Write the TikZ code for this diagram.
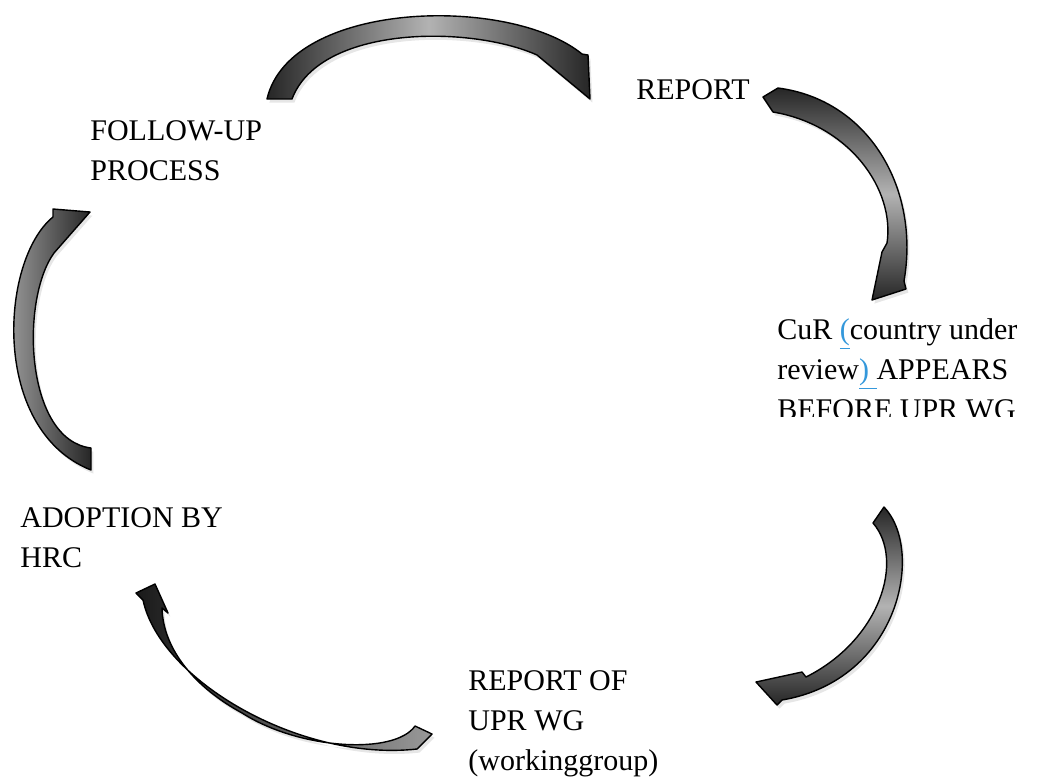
\documentclass[tikz,border=0pt]{standalone}
\usepackage{fontspec}
\setmainfont{Liberation Serif}
\usetikzlibrary{shadows}
\definecolor{linkblue}{RGB}{52,152,219}
\tikzset{every node/.style={anchor=base west, align=left, inner sep=0pt, font=\fontsize{15}{20}\selectfont},
  cyc/.style={draw=black, line width=0.7pt, line join=round,
    drop shadow={shadow xshift=1.2pt, shadow yshift=-1.8pt, opacity=0.2}}}
\newcommand{\bluepar}[1]{\textcolor{linkblue}{\underline{#1}}}

\begin{document}
\begin{tikzpicture}[x=0.5pt,y=-0.5pt]
       \useasboundingbox (0,0) rectangle (1050,778);
       % the five curved arrows of the cycle
       \draw[cyc, left color=black!85, right color=black!85, middle color=black!30]
         (267,99) .. controls (290,0) and (510,-5) .. (582,54) -- (588,55) -- (590,99) -- (537,55)
         .. controls (470,25) and (320,25) .. (292,99) -- cycle;
       \draw[cyc, top color=black!85, bottom color=black!85, middle color=black!30]
         (763,97) -- (778,88) .. controls (870,100) and (920,190) .. (904,281) -- (906,289) -- (872,300)
         -- (882,252) -- (887,243) .. controls (895,190) and (850,125) .. (773,112) -- cycle;
       \draw[cyc, shading angle=30, top color=black!85, bottom color=black!85, middle color=black!30]
         (873,523) -- (884,507) .. controls (925,550) and (900,680) .. (782,700) -- (777,705) -- (756,682)
         -- (802,672) -- (806,677) .. controls (880,640) and (905,560) .. (873,523) -- cycle;
       \draw[cyc, left color=black!90, right color=black!40]
         (136,593) -- (143,600) .. controls (160,680) and (300,762) .. (417,749) -- (432,734) -- (415,726)
         .. controls (395,755) and (300,750) .. (242,713) .. controls (196,688) and (163,650) .. (162,608)
         -- (168,613) -- (155,584) -- cycle;
       \draw[cyc, left color=black!30, right color=black!85]
         (53,209) -- (90,212) -- (54,253) .. controls (20,300) and (25,440) .. (91,448) -- (91,470)
         .. controls (-10,430) and (0,260) .. (53,217) -- cycle;
       % stages (base = last line)
       \node (rep) at (636,99) {REPORT};
       \begin{scope}
        \clip (700,290) rectangle (1050,416);
        \node (cur) at (777,419) {CuR \bluepar{(}country under\\review\bluepar{)\ }APPEARS\\BEFORE UPR WG};
       \end{scope}
       \node (wg)  at (468,770) {REPORT OF\\UPR WG\\(workinggroup)};
       \node (hrc) at (20,567)  {ADOPTION BY\\HRC};
       \node (fup) at (90,180)  {FOLLOW-UP\\PROCESS};
      \end{tikzpicture}
\end{document}
